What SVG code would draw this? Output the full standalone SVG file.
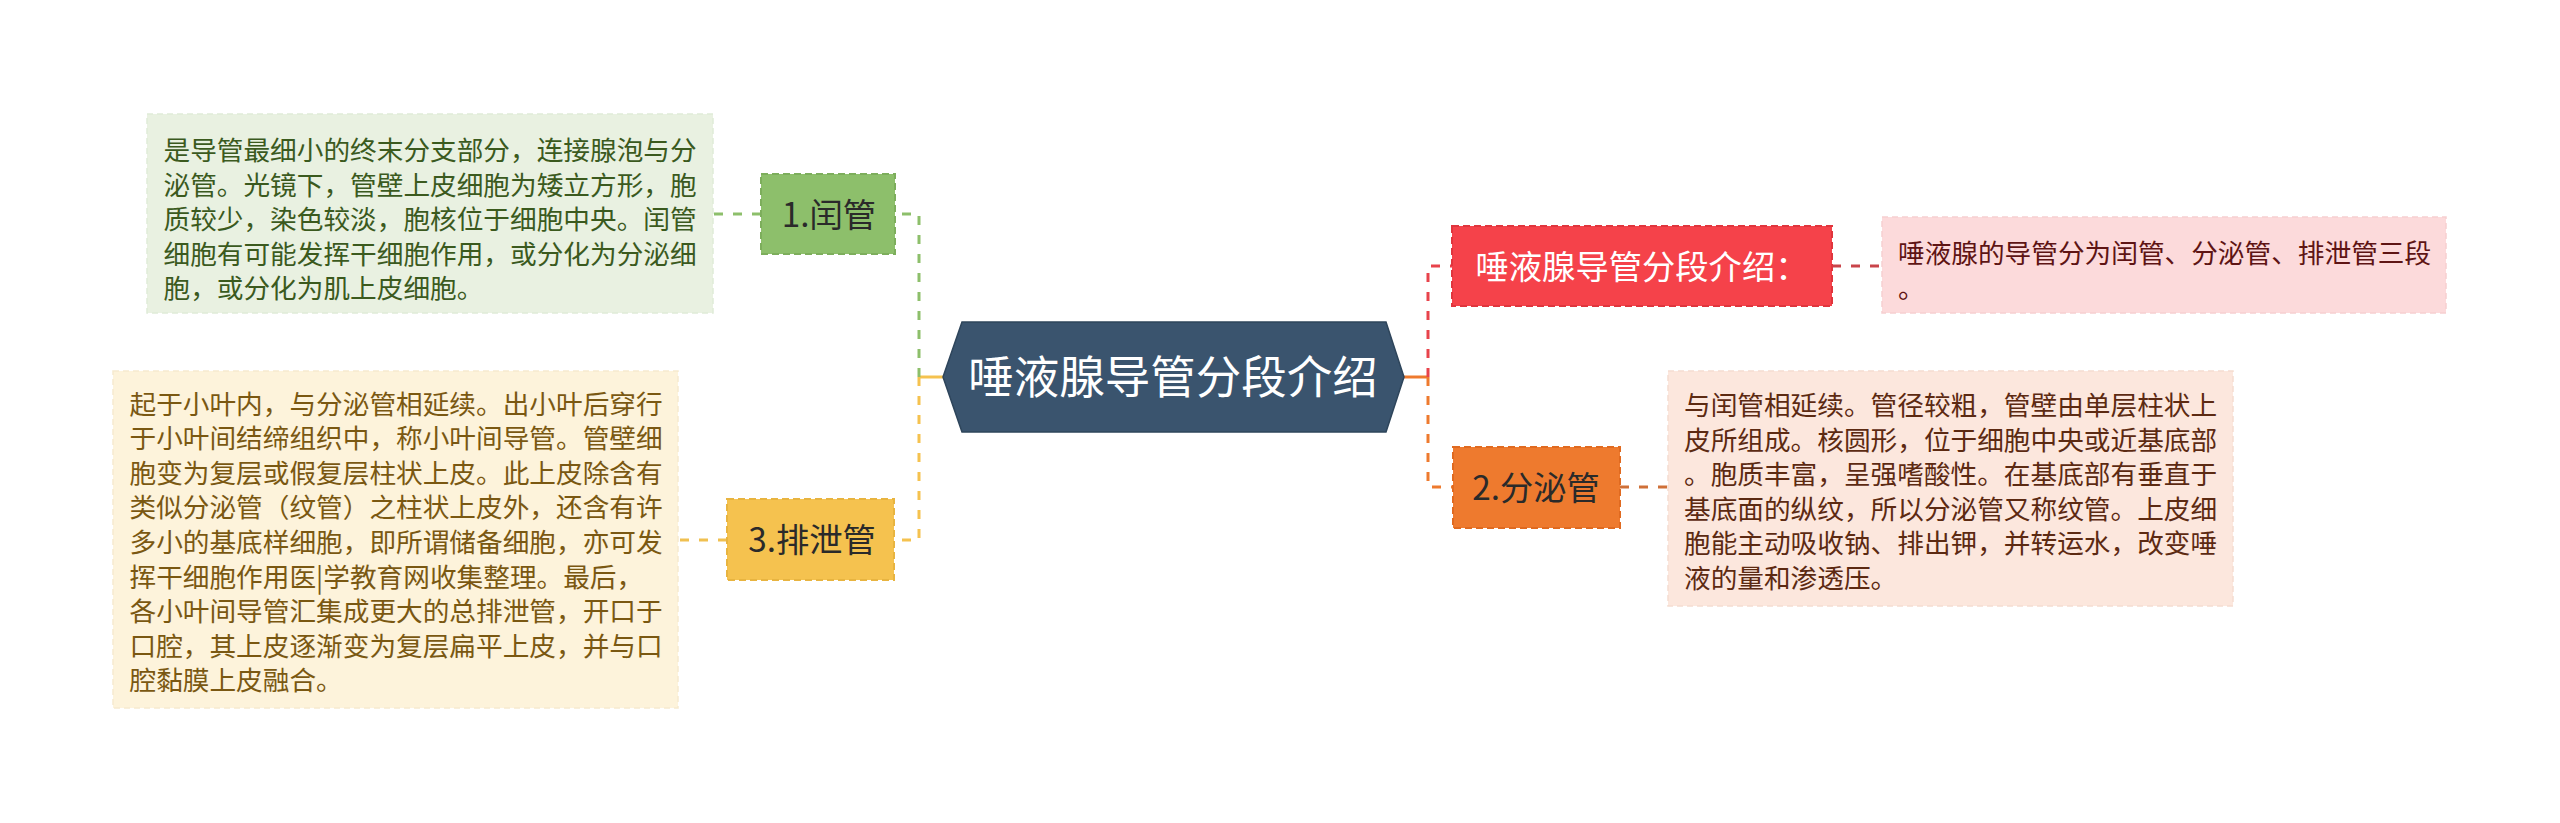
<svg xmlns="http://www.w3.org/2000/svg" width="2560" height="823" viewBox="0 0 2560 823">
<style>
text{font-family:"Noto Sans CJK SC","Noto Sans",sans-serif;}
.d{font-size:26.67px;}
.n{font-size:33.3px;text-anchor:middle;}
.c{fill:none;stroke-width:3;stroke-dasharray:9 10;}
.s{fill:none;stroke-width:3;}
.bx{stroke-width:2;stroke-dasharray:7 4;}
.db{stroke-width:1.5;stroke-dasharray:6 4;}
</style>
<rect width="2560" height="823" fill="#ffffff"/>
<g id="connectors">
<path class="s" d="M943,377 H919" stroke="#F5C24F"/>
<path class="c" d="M919,377 V214 H895" stroke="#8DBF6B"/>
<path class="c" d="M919,377 V540 H894" stroke="#F5C24F"/>
<path class="c" d="M761,214 H713" stroke="#8DBF6B"/>
<path class="c" d="M727,540 H678" stroke="#F0C050"/>
<path class="s" d="M1404,377 H1428" stroke="#EE7A2E"/>
<path class="c" d="M1428,377 V266 H1452" stroke="#E8434B"/>
<path class="c" d="M1428,377 V487 H1453" stroke="#EE7A2E"/>
<path class="c" d="M1832,266 H1882" stroke="#C9444A"/>
<path class="c" d="M1620,487 H1668" stroke="#CF7038"/>
</g>
<g id="center">
<polygon points="943,377 962,322 1386,322 1404,377 1386,432 962,432" fill="#3A546E" stroke="#2E455B" stroke-width="1.5"/>
<text x="1173" y="394" font-size="45.5" fill="#ffffff" text-anchor="middle">唾液腺导管分段介绍</text>
</g>
<g id="node1">
<rect class="bx" x="761" y="174" width="134" height="80" fill="#8DBF6B" stroke="#7DAE5C"/>
<text class="n" x="829" y="227" fill="#2A2A2A">1.闰管</text>
</g>
<g id="detail1">
<rect class="db" x="147" y="114" width="566" height="199" fill="#E9F1E1" stroke="#E0EBD8"/>
<g class="d" fill="#3B5A1E">
<text x="163.5" y="160">是导管最细小的终末分支部分，连接腺泡与分</text>
<text x="163.5" y="194.6">泌管。光镜下，管壁上皮细胞为矮立方形，胞</text>
<text x="163.5" y="229.2">质较少，染色较淡，胞核位于细胞中央。闰管</text>
<text x="163.5" y="263.8">细胞有可能发挥干细胞作用，或分化为分泌细</text>
<text x="163.5" y="298.4">胞，或分化为肌上皮细胞。</text>
</g>
</g>
<g id="node3">
<rect class="bx" x="727" y="499" width="167" height="81" fill="#F5C24F" stroke="#E8B440"/>
<text class="n" x="812" y="552" fill="#2A2A2A">3.排泄管</text>
</g>
<g id="detail3">
<rect class="db" x="113" y="371" width="565" height="337" fill="#FDF3DB" stroke="#F6EACF"/>
<g class="d" fill="#7A5812">
<text x="129.5" y="413.5">起于小叶内，与分泌管相延续。出小叶后穿行</text>
<text x="129.5" y="448.1">于小叶间结缔组织中，称小叶间导管。管壁细</text>
<text x="129.5" y="482.7">胞变为复层或假复层柱状上皮。此上皮除含有</text>
<text x="129.5" y="517.3">类似分泌管（纹管）之柱状上皮外，还含有许</text>
<text x="129.5" y="551.9">多小的基底样细胞，即所谓储备细胞，亦可发</text>
<text x="129.5" y="586.5">挥干细胞作用医|学教育网收集整理。最后，</text>
<text x="129.5" y="621.1">各小叶间导管汇集成更大的总排泄管，开口于</text>
<text x="129.5" y="655.7">口腔，其上皮逐渐变为复层扁平上皮，并与口</text>
<text x="129.5" y="690.3">腔黏膜上皮融合。</text>
</g>
</g>
<g id="node-red">
<rect class="bx" x="1452" y="226" width="380" height="80" fill="#F5424A" stroke="#E0353D"/>
<text class="n" x="1642" y="279" fill="#ffffff">唾液腺导管分段介绍：</text>
</g>
<g id="detail-red">
<rect class="db" x="1882" y="217" width="564" height="96" fill="#FCDADB" stroke="#F6D0D1"/>
<g class="d" fill="#5E1414">
<text x="1898" y="263">唾液腺的导管分为闰管、分泌管、排泄管三段</text>
<text x="1898" y="297.6">。</text>
</g>
</g>
<g id="node2">
<rect class="bx" x="1453" y="447" width="167" height="81" fill="#EE7A2E" stroke="#E06A20"/>
<text class="n" x="1536" y="500" fill="#2A2A2A">2.分泌管</text>
</g>
<g id="detail2">
<rect class="db" x="1668" y="371" width="565" height="235" fill="#FCE7DD" stroke="#F5DDD1"/>
<g class="d" fill="#5C2A12">
<text x="1684" y="415">与闰管相延续。管径较粗，管壁由单层柱状上</text>
<text x="1684" y="449.6">皮所组成。核圆形，位于细胞中央或近基底部</text>
<text x="1684" y="484.2">。胞质丰富，呈强嗜酸性。在基底部有垂直于</text>
<text x="1684" y="518.8">基底面的纵纹，所以分泌管又称纹管。上皮细</text>
<text x="1684" y="553.4">胞能主动吸收钠、排出钾，并转运水，改变唾</text>
<text x="1684" y="588">液的量和渗透压。</text>
</g>
</g>
</svg>
